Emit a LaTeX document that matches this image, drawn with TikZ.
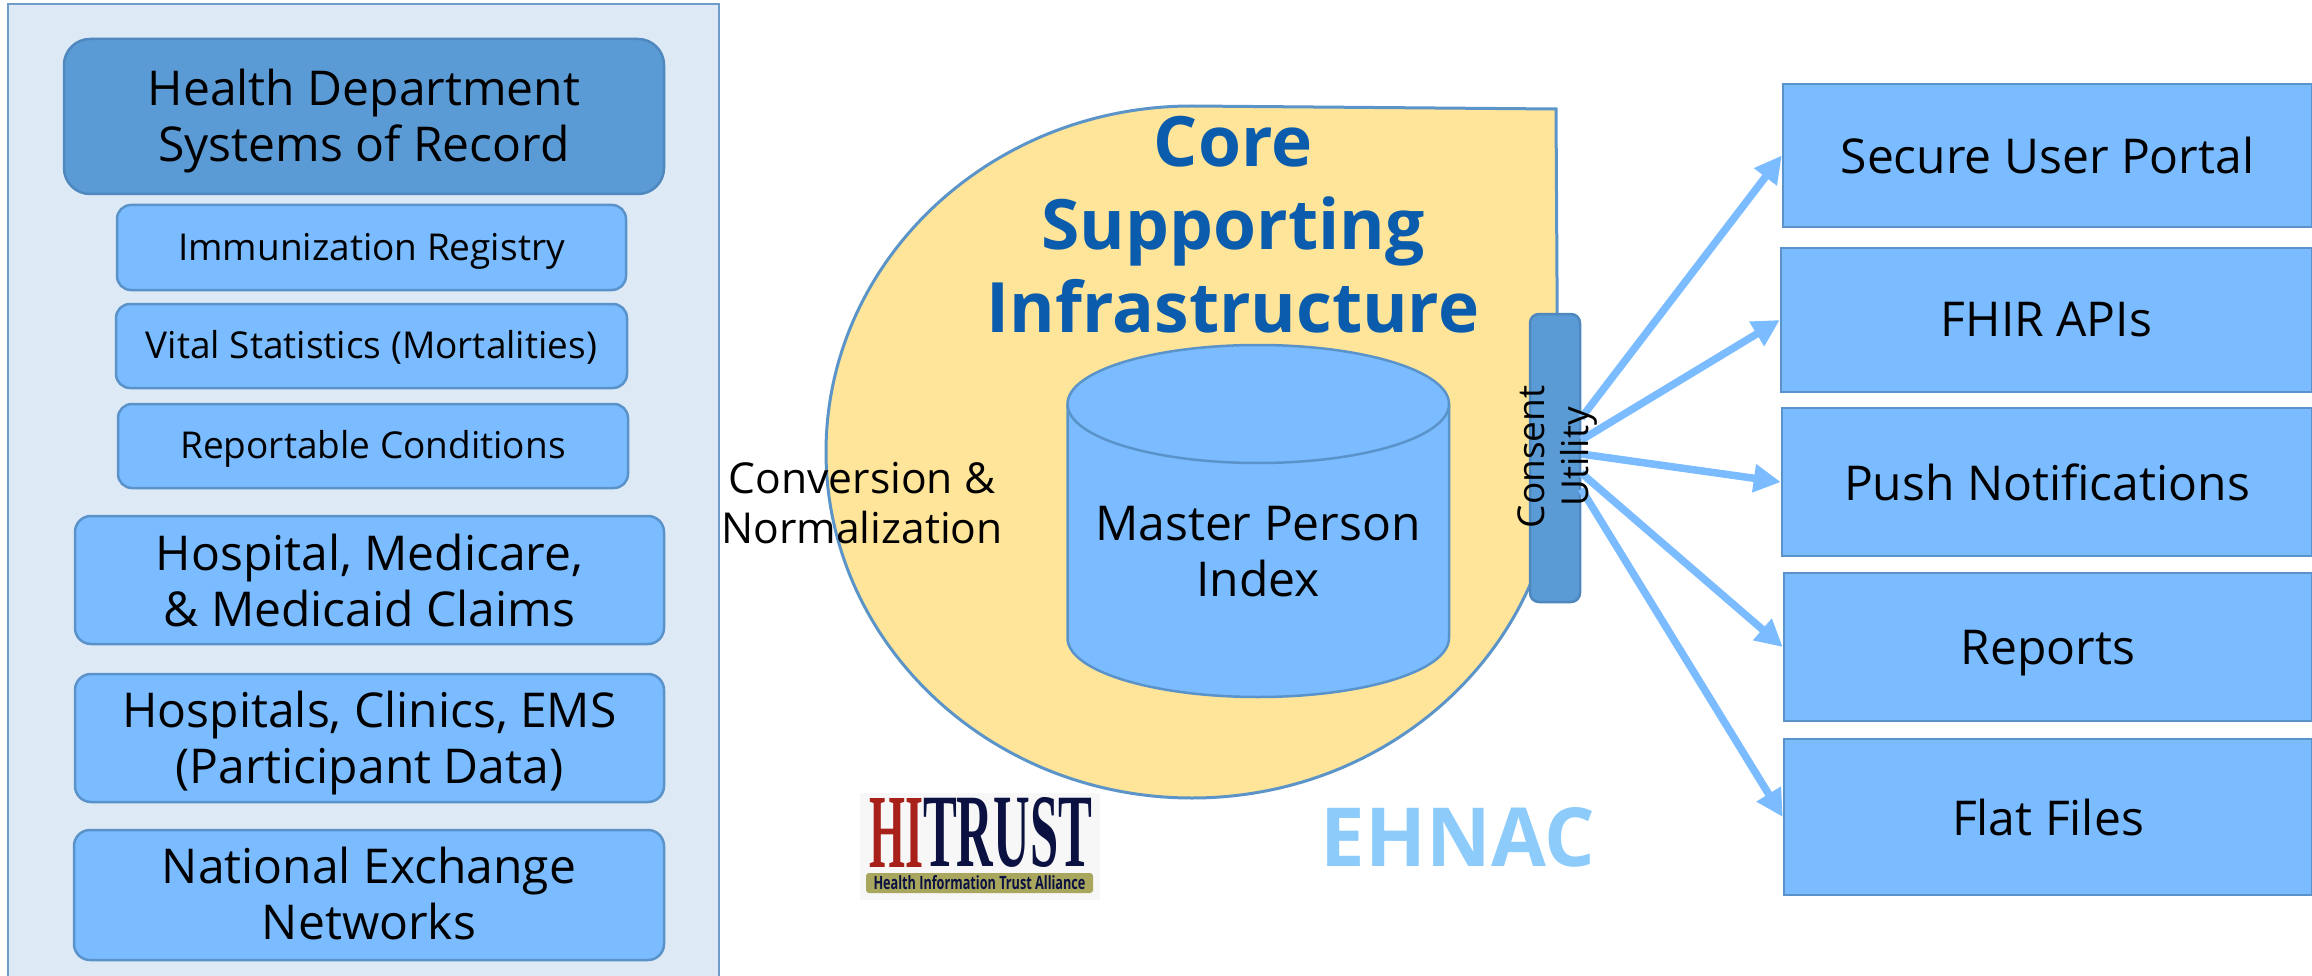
\documentclass[tikz,border=0pt]{standalone}
\usepackage{fontspec}
\usepackage{graphicx}
\setmainfont{Open Sans}
\newfontfamily\logoserif{Liberation Serif}
\definecolor{boxfill}{HTML}{7ABCFF}
\definecolor{boxline}{HTML}{5A93C9}
\definecolor{darkfill}{HTML}{5B9BD5}
\definecolor{darkline}{HTML}{4F88BF}
\definecolor{panelfill}{HTML}{DEE9F6}
\definecolor{panelline}{HTML}{6F9CCB}
\definecolor{corefill}{HTML}{FFE599}
\definecolor{coreline}{HTML}{5B94C8}
\definecolor{titleblue}{HTML}{0B5CAD}
\definecolor{hired}{HTML}{A8201A}
\definecolor{hinavy}{HTML}{0B1140}
\definecolor{khaki}{HTML}{A9A65E}
\definecolor{ehblue}{HTML}{8CCBFA}
\newcommand{\bigtxt}{\fontsize{48}{56}\selectfont}
\newcommand{\midtxt}{\fontsize{37}{44}\selectfont}
\newcommand{\convtxt}{\fontsize{42.6}{50}\selectfont}
\newcommand{\lowered}[2]{\raisebox{-#1}[\height][\depth]{\begin{tabular}{@{}c@{}}#2\end{tabular}}}
\usetikzlibrary{arrows.meta}
\tikzset{
  sqbox/.style={draw=boxline,fill=boxfill,line width=2.5pt,inner sep=0pt,align=center,font=\bigtxt},
  rbox/.style={sqbox,rounded corners=16pt},
  subbox/.style={sqbox,rounded corners=14pt,font=\midtxt},
  hdbox/.style={rbox,rounded corners=26pt,draw=darkline,fill=darkfill},
  flow/.style={draw=boxfill,line width=7.5pt,-{Triangle[length=27pt,width=27pt]}},
  plain/.style={inner sep=0pt,align=center}
}
\begin{document}
\begin{tikzpicture}[x=1pt,y=-1pt]
\useasboundingbox (0,0) rectangle (2312,976);
\fill[white] (0,0) rectangle (2312,976);
% left panel
\fill[panelfill] (8,4) rectangle (719,976);
\draw[panelline,line width=2.5pt] (8,976) -- (8,4) -- (719,4) -- (719,976);
\node[hdbox,minimum width=600pt,minimum height=155pt] (hd) at (364,116.5) {\lowered{6pt}{Health Department\\Systems of Record}};
\node[subbox,minimum width=509pt,minimum height=85pt] (imm) at (371.5,247.5) {\lowered{4pt}{Immunization Registry}};
\node[subbox,minimum width=511pt,minimum height=84pt] (vit) at (371.5,346) {\lowered{4pt}{Vital Statistics (Mortalities)}};
\node[subbox,minimum width=510pt,minimum height=84pt] (rep) at (373,446) {\lowered{4pt}{Reportable Conditions}};
\node[rbox,minimum width=589pt,minimum height=128pt] (hos) at (369.5,580) {Hospital, Medicare,\\\& Medicaid Claims};
\node[rbox,minimum width=589pt,minimum height=128pt] (cli) at (369.5,738) {\lowered{6pt}{Hospitals, Clinics, EMS\\(Participant Data)}};
\node[rbox,minimum width=590pt,minimum height=130pt] (nat) at (369,895) {\lowered{5pt}{National Exchange\\Networks}};
% core teardrop
\draw[fill=corefill,draw=coreline,line width=3pt,line join=miter]
  (1192,106) .. controls (990,106) and (826,261) .. (826,452)
  .. controls (826,643) and (990,798) .. (1192,798)
  .. controls (1394,798) and (1558,643) .. (1558,452)
  -- (1556,109) -- cycle;
\node[plain,text=titleblue,font=\fontsize{69.5}{83}\selectfont\bfseries] (core) at (1233,225) {Core\\Supporting\\Infrastructure};
% cylinder
\draw[fill=boxfill,draw=boxline,line width=2.5pt]
  (1067.5,404) -- (1067.5,638)
  .. controls (1067.5,671) and (1153,697) .. (1258,697)
  .. controls (1363,697) and (1449,671) .. (1449,638)
  -- (1449,404)
  .. controls (1449,371) and (1363,345) .. (1258,345)
  .. controls (1153,345) and (1067.5,371) .. (1067.5,404) -- cycle;
\draw[draw=boxline,line width=2.5pt]
  (1067.5,404) .. controls (1067.5,437) and (1153,463) .. (1258,463)
  .. controls (1363,463) and (1449,437) .. (1449,404);
\node[plain,font=\bigtxt] (mpi) at (1258,552) {Master Person\\Index};
\node[plain,font=\convtxt] (conv) at (862,503) {Conversion \&\\Normalization};
% outputs
\node[sqbox,minimum width=529pt,minimum height=143pt] (portal) at (2047.5,155.5) {Secure User Portal};
\node[sqbox,minimum width=531pt,minimum height=144pt] (fhir) at (2046.5,320) {FHIR APIs};
\node[sqbox,minimum width=530pt,minimum height=148pt] (push) at (2047,482) {Push Notifications};
\node[sqbox,minimum width=528pt,minimum height=148pt] (reports) at (2048,647) {\lowered{6pt}{Reports}};
\node[sqbox,minimum width=528pt,minimum height=156pt] (flat) at (2048,817) {Flat Files};
% consent
\node[sqbox,draw=darkline,fill=darkfill,rounded corners=9pt,minimum width=50pt,minimum height=288pt] (consent) at (1555,458) {};
\draw[flow] ([yshift=40pt]consent.east) -- (portal.west);
\draw[flow] ([yshift=18pt]consent.east) -- (fhir.west);
\draw[flow] ([yshift=4pt]consent.east) -- (push.west);
\draw[flow] ([yshift=-15pt]consent.east) -- (reports.west);
\draw[flow] ([yshift=-31pt]consent.east) -- (flat.west);
\node[plain,rotate=90,font=\midtxt] (consenttxt) at (1558,457) {Consent\\Utility};
% logos
\fill[black!3] (860,793) rectangle (1100,900);
\node[plain,text=hired] (hi) at (896,832.5) {\resizebox{54pt}{69pt}{\logoserif\bfseries HI}};
\node[plain,text=hinavy] (trust) at (1007.5,832.5) {\resizebox{169pt}{69pt}{\logoserif\bfseries TRUST}};
\node[fill=khaki,rounded corners=3pt,inner sep=0pt,minimum width=227pt,minimum height=20pt] (hita) at (979.5,883) {\resizebox{212pt}{14pt}{\bfseries\color{hinavy}Health Information Trust Alliance}};
\node[plain,text=ehblue] (ehnac) at (1458,837.5) {\resizebox{274pt}{59pt}{\bfseries EHNAC}};
\end{tikzpicture}
\end{document}
